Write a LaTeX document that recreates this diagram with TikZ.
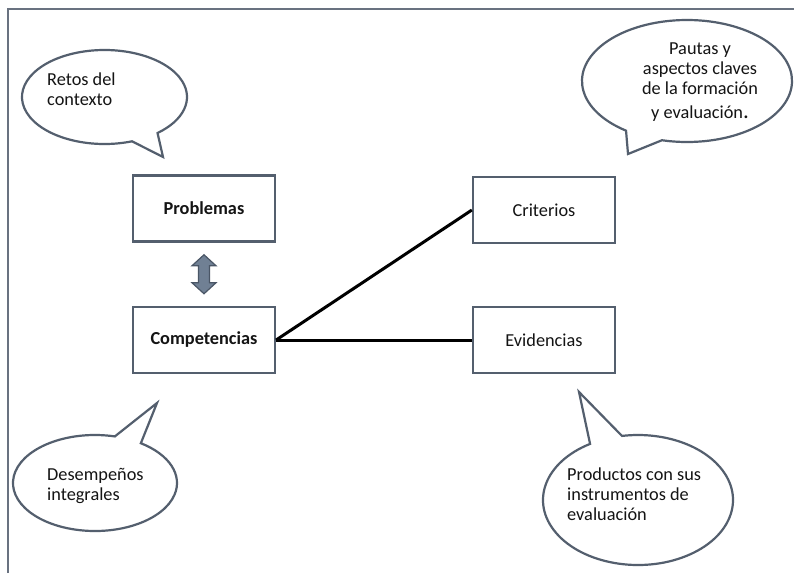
\documentclass[tikz,border=0pt]{standalone}
\usepackage{fontspec}
\setmainfont{Carlito}
\usetikzlibrary{calc}
\definecolor{edgec}{RGB}{84,95,110}
\definecolor{framec}{RGB}{105,114,128}
\definecolor{arrowfill}{RGB}{112,128,148}
\definecolor{arrowedge}{RGB}{74,86,102}
\definecolor{txt}{RGB}{20,20,20}
\begin{document}
\begin{tikzpicture}[x=1pt,y=-1pt,
  bord/.style={draw=edgec, line width=2.2pt},
  boxnode/.style={bord, fill=white, minimum width=142pt, minimum height=66pt, inner sep=0pt, text=txt, font=\fontsize{18.3}{21}\selectfont},
  boldbox/.style={boxnode, font=\fontsize{18.3}{21}\selectfont\bfseries},
  bubble/.style={bord, fill=white, line join=miter},
  btext/.style={font=\fontsize{18.3}{20}\selectfont, text=txt, inner sep=0pt},
  link/.style={line width=3pt, black},
  blockarrow/.style={fill=arrowfill, draw=arrowedge, line width=1.2pt, line join=miter}]
\useasboundingbox (0,0) rectangle (794,573);
\fill[white] (0,0) rectangle (794,573);
% frame
\draw[framec, line width=2.2pt] (8,573) -- (8,9) -- (794,9);

% boxes
\node[boldbox] (prob) at (204,208.5) {Problemas};
\node[boldbox] (comp) at (204,340) {Competencias};
\node[boxnode] (crit) at (544,210) {Criterios};
\node[boxnode] (evid) at (544,340) {Evidencias};

% connectors
\draw[link] (comp.east) -- (crit.west);
\draw[link] (comp.east) -- (evid.west);

% double block arrow between Problemas and Competencias
\coordinate (arr) at ($(prob.south)!0.5!(comp.north)$);
\draw[blockarrow] ($(arr)+(0,-19.5)$) -- ++(12,11) -- ++(-6.5,0) -- ++(0,17) -- ++(6.5,0)
  -- ++(-12,11) -- ++(-12,-11) -- ++(6.5,0) -- ++(0,-17) -- ++(-6.5,0) -- cycle;

% speech bubbles
\draw[bubble] ($(104.5,97)+(70.5:82.5 and 47)$)
  arc[start angle=70.5, end angle=410, x radius=82.5, y radius=47] -- (163,157) -- cycle;
\draw[bubble] ($(687,81)+(125.5:105 and 61)$)
  arc[start angle=125.5, end angle=463.8, x radius=105, y radius=61] -- (628,154) -- cycle;
\draw[bubble] ($(95,483)+(-76:82 and 48)$)
  arc[start angle=-76, end angle=-416, x radius=82, y radius=48] -- (157,403) -- cycle;
\draw[bubble] ($(638,500)+(-120.3:95 and 65)$)
  arc[start angle=-120.3, end angle=-459.7, x radius=95, y radius=65] -- (579,392) -- cycle;

% bubble texts (base anchor = baseline of last line)
\node[btext, align=left, anchor=base west] (retos) at (47,105) {Retos del\\contexto};
\node[btext, align=center, anchor=base] (pautas) at (700,118) {Pautas y\\aspectos claves\\de la formación\\[4pt]y evaluación{\fontsize{23}{20}\selectfont .}};
\node[btext, align=left, anchor=base west] (desem) at (47,500) {Desempeños\\integrales};
\node[btext, align=left, anchor=base west] (produc) at (567,520) {Productos con sus\\instrumentos de\\evaluación};
\end{tikzpicture}
\end{document}
